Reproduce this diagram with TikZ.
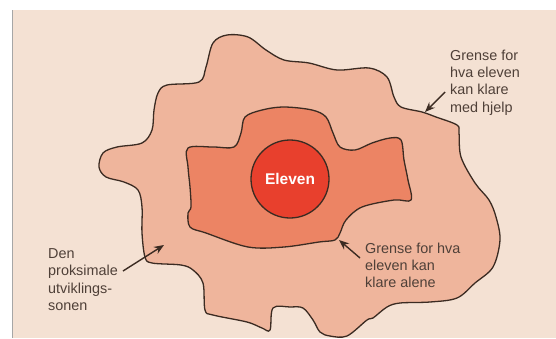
\documentclass[tikz,border=0pt]{standalone}
\usepackage{fontspec}
\setmainfont{Liberation Sans}
\usetikzlibrary{arrows.meta,positioning}
\definecolor{paper}{HTML}{F4E1D3}
\definecolor{zoneout}{HTML}{EFB59C}
\definecolor{zonein}{HTML}{EC8464}
\definecolor{selfred}{HTML}{E8402D}
\definecolor{edge}{HTML}{3B2B22}

\begin{document}
\begin{tikzpicture}[
    x=1pt, y=-1pt,
    zone/.style={draw=edge, line width=1.3pt, smooth cycle, tension=0.55},
    lbl/.style={anchor=north west, inner sep=0pt, align=left, text=edge!90,
        font=\fontsize{14.4}{17.3}\selectfont},
    pointer/.style={draw=edge, line width=1.4pt, -{Stealth[length=10pt,width=8pt]}}
]

% page
\useasboundingbox (0,0) rectangle (556,338);
\fill[white] (0,0) rectangle (556,338);
\fill[paper] (12,10) rectangle (556,338);
\draw[gray!70, line width=0.8pt] (12,10) -- (12,338);

% outer zone
\filldraw[zone, fill=zoneout] plot coordinates {
    (227,35) (248,37) (266,50) (284,60) (309,63) (337,70) (369,68) (387,77)
    (394,97) (401,107) (422,112) (436,117) (457,125) (459,133) (461,157)
    (475,183) (489,200) (496,217) (500,240) (493,267) (475,283) (457,298)
    (430,302) (400,303) (387,307) (373,318) (367,320) (347,336) (330,336)
    (320,332) (313,320) (303,308) (290,307) (273,308) (270,330) (262,328)
    (247,322) (213,315) (205,310) (203,283) (193,270) (181,265) (152,263)
    (145,257) (142,233) (142,207) (138,190) (124,182) (106,177) (99,167)
    (103,153) (117,147) (142,143) (152,130) (154,110) (158,93) (167,85)
    (199,82) (206,67) (213,43)};

% inner zone
\filldraw[zone, fill=zonein] plot coordinates {
    (245,117) (262,110) (284,107) (312,110) (326,117) (333,133) (340,147)
    (355,150) (372,143) (390,138) (401,140) (404,160) (408,180) (411,200)
    (394,200) (362,207) (346,220) (340,233) (335,240) (319,242) (284,247)
    (248,247) (206,233) (190,227) (188,213) (191,207) (190,187) (188,167)
    (188,148) (213,147) (234,147) (241,133)};

\node[circle, draw=edge, line width=1.3pt, fill=selfred, minimum size=78pt,
    inner sep=0pt, text=white, font=\bfseries\fontsize{15.5}{18}\selectfont]
    (eleven) at (290,179) {Eleven};

% labels
\node[lbl] (hjelp) at (450,49.5) {Grense for\\hva eleven\\kan klare\\med hjelp};
\node[lbl] (alene) at (365,242.5) {Grense for hva\\eleven kan\\klare alene};
\node[lbl] (sonen) at (48,248.5) {Den\\proksimale\\utviklings-\\sonen};

\coordinate (hjelp_tail) at (445,92);
\coordinate (hjelp_tip) at (425,112);
\coordinate (alene_tail) at (360,258);
\coordinate (alene_tip) at (339,240);
\coordinate (sonen_tail) at (123,271);
\coordinate (sonen_tip) at (164,245);

\draw[pointer] (hjelp_tail) -- (hjelp_tip);
\draw[pointer] (alene_tail) -- (alene_tip);
\draw[pointer] (sonen_tail) -- (sonen_tip);

\end{tikzpicture}
\end{document}
